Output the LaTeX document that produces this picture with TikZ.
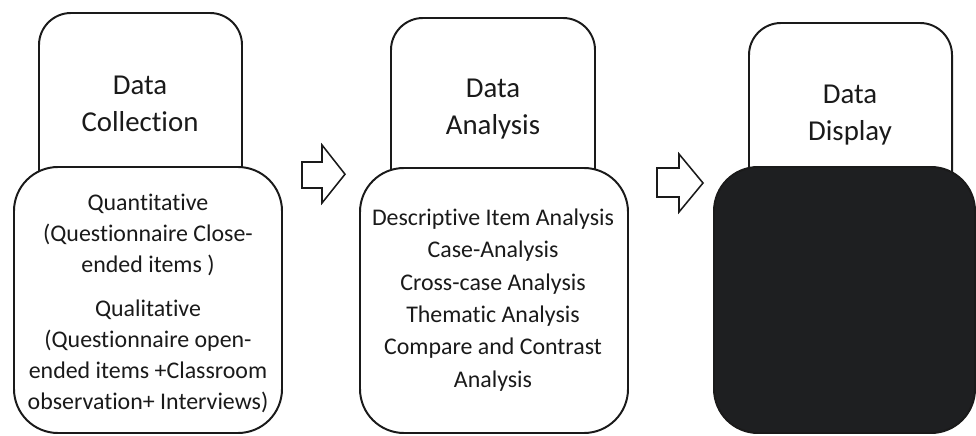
\documentclass[tikz,border=0pt]{standalone}
\usepackage{fontspec}
\setmainfont[Ligatures=NoCommon]{Carlito}
\definecolor{ink}{HTML}{1A1A1A}
\definecolor{panel}{HTML}{1E1F21}
\tikzset{
  headbox/.style={draw=ink, line width=1.4pt, fill=white, rounded corners=0.8cm},
  bodybox/.style={draw=ink, line width=1.4pt, fill=white, rounded corners=1.1cm},
  title/.style={align=center, text=ink, font=\fontsize{20.5}{26.2}\selectfont},
  body/.style={align=center, text=ink, font=\fontsize{17}{23}\selectfont},
  blockarrow/.style={draw=ink, line width=1.1pt, fill=white, line join=miter},
}
\begin{document}
\begin{tikzpicture}
\useasboundingbox (0, 0) rectangle (24.4, 10.875);

% data collection
\draw[headbox] (0.975, 5) rectangle (6.05, 10.55);
\draw[bodybox] (0.35, 0.05) rectangle (7.05, 6.7);
\node[title] (collectTitle) at (3.5, 8.275) {Data\\Collection};
\node[body, font=\fontsize{17}{22}\selectfont] (collectText) at (3.7, 3.29) {Quantitative\\(Questionnaire Close-\\ended items )\\[0.35cm]Qualitative\\(Questionnaire open-\\ended items +Classroom\\observation+ Interviews)};

% data analysis
\draw[headbox] (9.775, 5) rectangle (14.875, 10.425);
\draw[bodybox] (9.0, 0.05) rectangle (15.7, 6.675);
\node[title] (analysisTitle) at (12.325, 8.15) {Data\\Analysis};
\node[body] (analysisText) at (12.325, 3.375) {Descriptive Item Analysis\\Case-Analysis\\Cross-case Analysis\\Thematic Analysis\\Compare and Contrast\\Analysis};

% data display
\draw[headbox] (18.725, 5) rectangle (23.8, 10.3);
\draw[bodybox, fill=panel] (17.85, 0.05) rectangle (24.375, 6.7);
\node[title] (displayTitle) at (21.25, 8.0) {Data\\Display};

% block arrows
\draw[blockarrow] (7.55, 6.825) -- (8.05, 6.825) -- (8.05, 7.25) -- (8.625, 6.52)
  -- (8.05, 5.8) -- (8.05, 6.175) -- (7.55, 6.175) -- cycle;
\draw[blockarrow] (16.425, 6.675) -- (16.975, 6.675) -- (16.975, 7.025) -- (17.575, 6.3)
  -- (16.975, 5.575) -- (16.975, 5.95) -- (16.425, 5.95) -- cycle;

\end{tikzpicture}
\end{document}
